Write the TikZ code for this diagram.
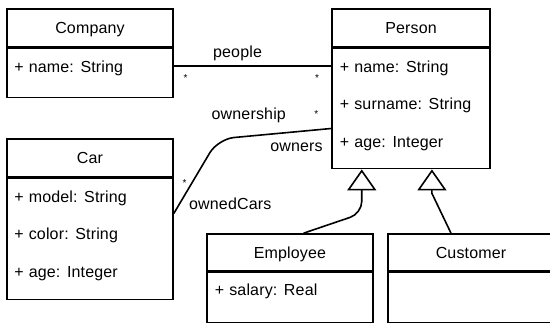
\documentclass[tikz,border=0pt]{standalone}
\usepackage{fontspec}
\setmainfont{Liberation Sans}[LetterSpace=1, WordSpace=1.1]
\usepackage{tikz}
\usetikzlibrary{arrows.meta,positioning}
\newcommand{\umlsize}{\fontsize{16}{19}\selectfont}
\newcommand{\multsize}{\fontsize{10}{12}\selectfont}
\tikzstyle{classhead} = [rectangle, draw, line width=1.6pt, inner sep=0pt, minimum width=166pt, minimum height=38pt, text height=11.5pt, text depth=0pt, font=\umlsize]
\tikzstyle{classbody} = [rectangle, draw, line width=1.6pt, inner sep=0pt, minimum width=166pt]
\tikzstyle{attr} = [inner sep=0pt, text height=11.5pt, text depth=0pt, font=\umlsize]
\tikzstyle{line} = [draw, line width=1.6pt]
\tikzstyle{generalization} = [draw, line width=1.6pt, -{Triangle[open, length=21pt, width=29pt]}]
\tikzstyle{role} = [inner sep=1pt, font=\umlsize]
\tikzstyle{mult} = [inner sep=1pt, font=\multsize]

\begin{document}
\begin{tikzpicture}[x=1pt, y=-1pt]
	\useasboundingbox (0,0) rectangle (550,322);
	% Top row
	\node[classhead] (Company) at (90,28) {Company};
	\node[classbody, below=0pt of Company, minimum height=49pt] (Company-body) {};
	\node[attr, below right=13pt and 8pt of Company.south west] (Company-name) {+ name: String};
	
	\node[classhead, minimum width=158pt] (Person) at (411,28) {Person};
	\node[classbody, below=0pt of Person, minimum width=158pt, minimum height=120pt] (Person-body) {};
	\node[attr, below right=13pt and 8.5pt of Person.south west] (Person-name) {+ name: String};
	\node[attr, below right=25.5pt and 0pt of Person-name.south west] (Person-surname) {+ surname: String};
	\node[attr, below right=25.5pt and 0pt of Person-surname.south west] (Person-age) {+ age: Integer};
	
	% Middle row
	\node[classhead] (Car) at (90,158) {Car};
	\node[classbody, below=0pt of Car, minimum height=121pt] (Car-body) {};
	\node[attr, below right=13pt and 8pt of Car.south west] (Car-model) {+ model: String};
	\node[attr, below right=25.5pt and 0pt of Car-model.south west] (Car-color) {+ color: String};
	\node[attr, below right=25.5pt and 0pt of Car-color.south west] (Car-age) {+ age: Integer};
	
	% Bottom row
	\node[classhead, minimum height=37pt] (Employee) at (290,252.5) {Employee};
	\node[classbody, below=0pt of Employee, minimum height=50pt] (Employee-body) {};
	\node[attr, below right=11.5pt and 8.5pt of Employee.south west] (Employee-salary) {+ salary: Real};
	\node[classhead, minimum height=37pt] (Customer) at (471,252.5) {Customer};
	\node[classbody, below=0pt of Customer, minimum height=50pt] (Customer-body) {};
	
	% Associations
	\coordinate (own-bend) at (218,139);
	\path [line] (Company-body.5) -- node[role, pos=0.405, above=3pt] (people) {people}
		node[mult, pos=0.075, below=6.7pt] (people-mult-a) {*}
		node[mult, pos=0.91, below=6.7pt] (people-mult-b) {*} (Person-body.west |- Company-body.5);
	\path [line, rounded corners=16pt] (Car-body.17) -- node[mult, pos=0.41, left=3.5pt] (owned-mult) {*}
		node[role, pos=0.137, right=7.5pt] (ownedCars) {ownedCars} (own-bend)
		-- node[role, pos=0.272, above=12pt] (ownership) {ownership}
		node[mult, pos=0.868, above=10.7pt] (owners-mult) {*}
		node[role, pos=0.693, below=9.8pt] (owners) {owners} (Person-body.194);
	
	% Generalizations
	\path [generalization, rounded corners=12pt] (Employee.55) -- ([yshift=-44pt]Person-body.231) -- (Person-body.231);
	\path [generalization] (Customer.136) -- ([yshift=-24pt]Person-body.289) -- (Person-body.289);
\end{tikzpicture}
\end{document}
